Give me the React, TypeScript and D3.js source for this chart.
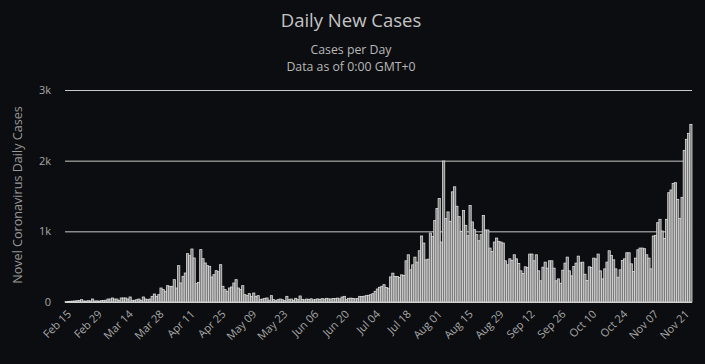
import React, { useEffect } from 'react';
import { scaleBand, scaleLinear, timeDay, timeFormat } from 'd3';

const size = { width: 705, height: 364, left: 65, right: 692, top: 90, bottom: 302 };

const startDate = new Date(2020, 1, 15);

// daily new cases, Feb 15 .. Nov 24
const dailyCases: number[] = [
  5, 8, 10, 12, 15, 18, 20, 33, 15, 12,
  18, 15, 42, 14, 16, 12, 18, 20, 25, 42,
  42, 57, 42, 42, 24, 57, 57, 57, 42, 71,
  24, 24, 33, 42, 24, 71, 42, 33, 42, 80,
  113, 80, 104, 198, 175, 151, 231, 222, 222, 316,
  198, 514, 269, 363, 410, 684, 656, 750, 623, 259,
  278, 741, 613, 552, 514, 505, 354, 387, 443, 429,
  528, 222, 175, 151, 198, 212, 269, 316, 198, 175,
  231, 104, 90, 118, 80, 127, 80, 90, 33, 42,
  52, 57, 24, 90, 33, 19, 33, 42, 33, 19,
  80, 33, 42, 24, 52, 33, 85, 38, 30, 42,
  36, 45, 30, 38, 44, 35, 48, 40, 52, 45,
  42, 50, 48, 55, 44, 70, 80, 33, 52, 55,
  50, 45, 48, 80, 78, 82, 90, 95, 104, 118,
  151, 184, 208, 222, 245, 204, 195, 355, 408, 360,
  360, 346, 384, 375, 583, 668, 455, 526, 635, 564,
  725, 934, 834, 597, 606, 976, 929, 1152, 1322, 1464,
  848, 1995, 1180, 1275, 1142, 1559, 1630, 1355, 1208, 1000,
  1294, 1085, 938, 1365, 1133, 1024, 953, 867, 953, 1223,
  1019, 1019, 763, 716, 848, 905, 858, 848, 834, 583,
  526, 611, 588, 668, 611, 545, 441, 403, 498, 488,
  678, 678, 583, 668, 441, 300, 493, 564, 479, 583,
  583, 479, 300, 327, 265, 450, 550, 635, 441, 370,
  502, 550, 649, 555, 564, 393, 303, 498, 488, 621,
  611, 678, 441, 327, 469, 564, 725, 659, 597, 469,
  351, 455, 588, 611, 697, 697, 540, 431, 621, 739,
  763, 763, 754, 668, 621, 469, 934, 943, 1123, 1170,
  1005, 901, 1170, 1547, 1585, 1679, 1689, 1453, 1184, 1481,
  2146, 2302, 2387, 2514,
];

const dateLabel = timeFormat('%b %d');
const categories = dailyCases.map((_, i) => dateLabel(timeDay.offset(startDate, i)));

const xTickLabels = [
  'Feb 15', 'Feb 29', 'Mar 14', 'Mar 28', 'Apr 11', 'Apr 25', 'May 09',
  'May 23', 'Jun 06', 'Jun 20', 'Jul 04', 'Jul 18', 'Aug 01', 'Aug 15',
  'Aug 29', 'Sep 12', 'Sep 26', 'Oct 10', 'Oct 24', 'Nov 07', 'Nov 21',
];
const yTicks = [0, 1000, 2000, 3000];
const yTickLabels = ['0', '1k', '2k', '3k'];

const font = "'Open Sans', sans-serif";

const App = () => {
  useEffect(() => {
    document.body.style.margin = '0';
    document.body.style.background = '#0c0d10';
  }, []);

  const x = scaleBand<string>()
    .domain(categories)
    .range([size.left, size.right])
    .padding(0);
  const y = scaleLinear().domain([0, 3000]).range([size.bottom, size.top]);

  return (
    <svg
      width={size.width}
      height={size.height}
      style={{ display: 'block', background: '#0c0d10' }}
    >
      <text x={351} y={27} textAnchor='middle' fill='#c4c4c4' fontSize={18.5} fontFamily={font}>
        Daily New Cases
      </text>
      <text x={351} y={54} textAnchor='middle' fill='#b8b8b8' fontSize={12.3} fontFamily={font}>
        Cases per Day
      </text>
      <text x={351} y={71} textAnchor='middle' fill='#b8b8b8' fontSize={12.3} fontFamily={font}>
        Data as of 0:00 GMT+0
      </text>

      {yTicks.map((t, i) => (
        <g key={t}>
          <line x1={size.left} x2={size.right} y1={y(t) + 0.5} y2={y(t) + 0.5} stroke='#c8c8c8' strokeWidth={1} />
          <text x={51} y={y(t)} dy='0.35em' textAnchor='end' fill='#a8a8a8' fontSize={11} fontFamily={font}>
            {yTickLabels[i]}
          </text>
        </g>
      ))}

      <text
        transform={`translate(22,${(size.top + size.bottom) / 2 - 1}) rotate(-90)`}
        textAnchor='middle'
        fill='#9a9a9a'
        fontSize={12.6}
        fontFamily={font}
      >
        Novel Coronavirus Daily Cases
      </text>

      <g>
        {dailyCases.map((v, i) => (
          <rect
            key={i}
            x={x(categories[i])}
            y={y(v)}
            width={x.bandwidth()}
            height={size.bottom - y(v)}
            fill='#7a7a7a'
            stroke='#dcdcdc'
            strokeWidth={0.8}
          />
        ))}
      </g>

      {xTickLabels.map((label) => {
        const cx = (x(label) ?? 0) + x.bandwidth() / 2;
        return (
          <text
            key={label}
            transform={`translate(${cx + 3},${size.bottom + 10}) rotate(-45)`}
            textAnchor='end'
            dy='0.35em'
            fill='#a8a8a8'
            fontSize={11}
            fontFamily={font}
          >
            {label}
          </text>
        );
      })}
    </svg>
  );
};

export default App;
